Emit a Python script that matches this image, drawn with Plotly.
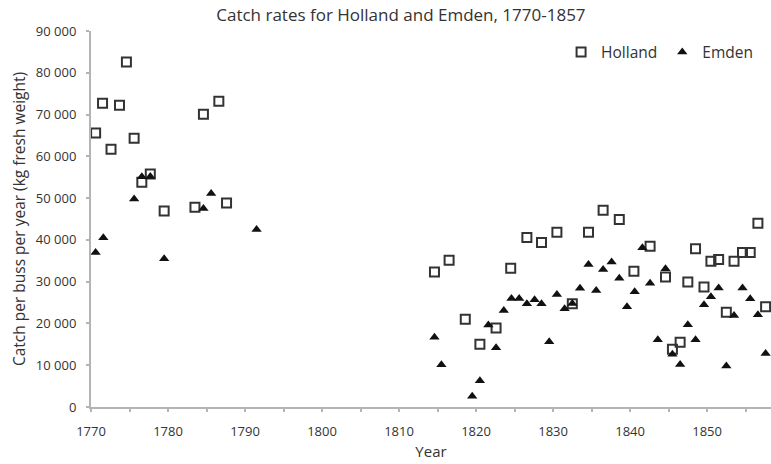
import plotly.graph_objects as go

# Data (x = plotted year position, y = kg per buss per year)
holland_years = [1770.6, 1771.5, 1772.6, 1773.7, 1774.6, 1775.6, 1776.6, 1777.7, 1779.5,
                 1783.5, 1784.6, 1786.6, 1787.6,
                 1814.6, 1816.5, 1818.6, 1820.5, 1822.6, 1824.5, 1826.6, 1828.5, 1830.5,
                 1832.5, 1834.6, 1836.5, 1838.6, 1840.5, 1842.6, 1844.6, 1845.5, 1846.5,
                 1847.5, 1848.5, 1849.6, 1850.5, 1851.5, 1852.5, 1853.5, 1854.6, 1855.6,
                 1856.6, 1857.6]
holland_catch = [65600, 72700, 61700, 72200, 82600, 64300, 53800, 55800, 46900,
                 47800, 70100, 73200, 48800,
                 32300, 35100, 21000, 15000, 18900, 33200, 40600, 39400, 41800,
                 24700, 41800, 47100, 44900, 32500, 38500, 31100, 13800, 15500,
                 29900, 37900, 28700, 34900, 35300, 22700, 34900, 37000, 37000,
                 44000, 24000]

emden_years = [1770.6, 1771.6, 1775.6, 1776.6, 1777.7, 1779.5, 1784.6, 1785.6, 1791.5,
               1814.6, 1815.5, 1819.5, 1820.5, 1821.6, 1822.6, 1823.6, 1824.6, 1825.6,
               1826.6, 1827.6, 1828.5, 1829.5, 1830.5, 1831.5, 1832.5, 1833.5, 1834.6,
               1835.6, 1836.5, 1837.6, 1838.6, 1839.6, 1840.6, 1841.6, 1842.6, 1843.6,
               1844.6, 1845.5, 1846.5, 1847.5, 1848.5, 1849.6, 1850.5, 1851.5, 1852.5,
               1853.5, 1854.6, 1855.6, 1856.6, 1857.6]
emden_catch = [37000, 40500, 49800, 55100, 55200, 35500, 47500, 51100, 42500,
               16700, 10100, 2600, 6300, 19600, 14200, 23100, 26000, 26000,
               24700, 25700, 24700, 15600, 26900, 23500, 24800, 28400, 34100,
               27900, 32900, 34700, 30800, 24000, 27600, 38100, 29600, 16100,
               33100, 12600, 10200, 19700, 16100, 24500, 26400, 28500, 9800,
               21900, 28500, 25900, 22100, 12800]

x_tick_values = [1770, 1775, 1780, 1785, 1790, 1795, 1800, 1805, 1810, 1815,
                 1820, 1825, 1830, 1835, 1840, 1845, 1850, 1855]
x_tick_labels = ["1770", "", "1780", "", "1790", "", "1800", "", "1810", "",
                 "1820", "", "1830", "", "1840", "", "1850", ""]
y_tick_values = [0, 10000, 20000, 30000, 40000, 50000, 60000, 70000, 80000, 90000]
y_tick_labels = ["0", "10 000", "20 000", "30 000", "40 000", "50 000",
                 "60 000", "70 000", "80 000", "90 000"]

FONT = "Open Sans, Noto Sans, sans-serif"
TEXT = "#333333"
AXIS = "#b4b4b4"

fig = go.Figure()
fig.add_trace(go.Scatter(
    x=holland_years, y=holland_catch, mode="markers", name="Holland",
    marker=dict(symbol="square-open", size=9, color="#333333",
                line=dict(width=2, color="#333333")),
    cliponaxis=False,
))
fig.add_trace(go.Scatter(
    x=emden_years, y=emden_catch, mode="markers", name="Emden",
    marker=dict(symbol="triangle-up", size=9, color="#111111"),
    cliponaxis=False,
))

fig.update_layout(
    width=771, height=464,
    margin=dict(l=91, r=0, t=31, b=57, autoexpand=False),
    paper_bgcolor="white", plot_bgcolor="white",
    font=dict(family=FONT, color=TEXT, size=13),
    title=dict(text="Catch rates for Holland and Emden, 1770-1857",
               x=0.52, xanchor="center", y=0.967, yanchor="middle",
               font=dict(size=17, color=TEXT, family=FONT)),
    showlegend=True,
    legend=dict(orientation="h", x=0.981, xanchor="right", y=0.943, yanchor="middle",
                font=dict(size=15.5, color=TEXT, family=FONT),
                bgcolor="rgba(0,0,0,0)", itemwidth=30, tracegroupgap=0),
    xaxis=dict(range=[1770, 1858.3], tickmode="array", tickvals=x_tick_values,
               ticktext=x_tick_labels, showgrid=False, zeroline=False,
               showline=True, linecolor=AXIS, linewidth=2,
               ticks="outside", ticklen=3, tickwidth=2, tickcolor=AXIS,
               ticklabelstandoff=8,
               tickfont=dict(size=13, color=TEXT),
               title=dict(text="Year", font=dict(size=15, color=TEXT), standoff=8)),
    yaxis=dict(range=[0, 90000], tickmode="array", tickvals=y_tick_values,
               ticktext=y_tick_labels, showgrid=False, zeroline=False,
               showline=True, linecolor=AXIS, linewidth=2,
               ticks="outside", ticklen=3, tickwidth=2, tickcolor=AXIS,
               ticklabelstandoff=7,
               tickfont=dict(size=13, color=TEXT),
               title=dict(text="Catch per buss per year (kg fresh weight)",
                          font=dict(size=15.5, color=TEXT), standoff=6)),
)

fig.write_html("out.html", config={"displayModeBar": False},
               post_script="document.body.style.margin='0';document.body.style.padding='0';")
